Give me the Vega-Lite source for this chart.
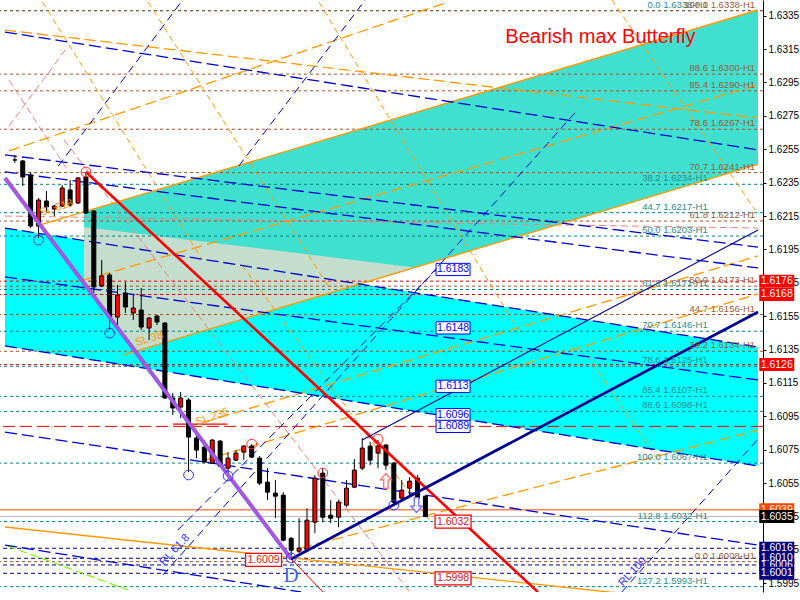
{
"$schema":"https://vega.github.io/schema/vega-lite/v6.json",
"width":763,"height":592,
"autosize":{"type":"none"},
"padding":{"left":0,"top":0,"right":37,"bottom":8},
"background":"#FFFFFF",
"config":{"view":{"stroke":null},
 "axisY":{"labelOverlap":false,"labelFlush":false,"grid":false,"title":null,"domainColor":"#000000","domainWidth":1,"tickColor":"#000000","tickSize":3,"labelColor":"#000000","labelFont":"Liberation Sans","labelFontSize":10,"labelPadding":2}},
"datasets":{
"candles":[
{"t":0,"o":1.62486,"h":1.62516,"l":1.62468,"c":1.62486},
{"t":1,"o":1.6248,"h":1.62486,"l":1.6233,"c":1.62384},
{"t":2,"o":1.62396,"h":1.62414,"l":1.62078,"c":1.6209},
{"t":3,"o":1.6209,"h":1.62258,"l":1.62018,"c":1.62246},
{"t":4,"o":1.6224,"h":1.623,"l":1.62174,"c":1.62204},
{"t":5,"o":1.62192,"h":1.62216,"l":1.6215,"c":1.6221},
{"t":6,"o":1.6221,"h":1.62336,"l":1.62204,"c":1.62318},
{"t":7,"o":1.62306,"h":1.62366,"l":1.62204,"c":1.62216},
{"t":8,"o":1.62228,"h":1.62384,"l":1.62222,"c":1.62378},
{"t":9,"o":1.62384,"h":1.62414,"l":1.62162,"c":1.62168},
{"t":10,"o":1.6218,"h":1.62186,"l":1.61689,"c":1.61725},
{"t":11,"o":1.61731,"h":1.61887,"l":1.61725,"c":1.61791},
{"t":12,"o":1.61797,"h":1.61809,"l":1.61467,"c":1.61545},
{"t":13,"o":1.61545,"h":1.61737,"l":1.61485,"c":1.61677},
{"t":14,"o":1.61689,"h":1.61755,"l":1.61569,"c":1.61605},
{"t":15,"o":1.61569,"h":1.61677,"l":1.61527,"c":1.61599},
{"t":16,"o":1.61587,"h":1.61719,"l":1.61467,"c":1.61485},
{"t":17,"o":1.61479,"h":1.61545,"l":1.61407,"c":1.61539},
{"t":18,"o":1.61551,"h":1.61557,"l":1.61497,"c":1.61515},
{"t":19,"o":1.61509,"h":1.61515,"l":1.61054,"c":1.6106},
{"t":20,"o":1.6106,"h":1.6109,"l":1.60958,"c":1.61},
{"t":21,"o":1.61006,"h":1.61096,"l":1.6094,"c":1.6106},
{"t":22,"o":1.61048,"h":1.6106,"l":1.60616,"c":1.60826},
{"t":23,"o":1.6082,"h":1.60868,"l":1.607,"c":1.60748},
{"t":24,"o":1.60766,"h":1.60808,"l":1.6067,"c":1.60676},
{"t":25,"o":1.6067,"h":1.60814,"l":1.60664,"c":1.60808},
{"t":26,"o":1.60802,"h":1.60808,"l":1.60646,"c":1.60652},
{"t":27,"o":1.6064,"h":1.60736,"l":1.60592,"c":1.607},
{"t":28,"o":1.60688,"h":1.60748,"l":1.60682,"c":1.6073},
{"t":29,"o":1.60736,"h":1.60778,"l":1.60688,"c":1.60772},
{"t":30,"o":1.60772,"h":1.60784,"l":1.607,"c":1.60706},
{"t":31,"o":1.607,"h":1.60712,"l":1.60538,"c":1.6055},
{"t":32,"o":1.60556,"h":1.6064,"l":1.60448,"c":1.60496},
{"t":33,"o":1.6049,"h":1.60568,"l":1.6034,"c":1.60472},
{"t":34,"o":1.60478,"h":1.60496,"l":1.60202,"c":1.60208},
{"t":35,"o":1.6022,"h":1.60226,"l":1.6009,"c":1.60148},
{"t":36,"o":1.60142,"h":1.6034,"l":1.6013,"c":1.6016},
{"t":37,"o":1.60148,"h":1.604,"l":1.60136,"c":1.60328},
{"t":38,"o":1.60316,"h":1.60598,"l":1.6025,"c":1.6058},
{"t":39,"o":1.6061,"h":1.6064,"l":1.60316,"c":1.60346},
{"t":40,"o":1.60358,"h":1.60448,"l":1.6031,"c":1.6034},
{"t":41,"o":1.60346,"h":1.60448,"l":1.60286,"c":1.60436},
{"t":42,"o":1.60418,"h":1.60568,"l":1.60406,"c":1.6052},
{"t":43,"o":1.60526,"h":1.60694,"l":1.6052,"c":1.60628},
{"t":44,"o":1.6064,"h":1.6082,"l":1.60628,"c":1.6076},
{"t":45,"o":1.60772,"h":1.60796,"l":1.60658,"c":1.60688},
{"t":46,"o":1.6073,"h":1.60808,"l":1.6064,"c":1.60772},
{"t":47,"o":1.60778,"h":1.60784,"l":1.60628,"c":1.60658},
{"t":48,"o":1.6067,"h":1.60676,"l":1.60418,"c":1.60436},
{"t":49,"o":1.6046,"h":1.60568,"l":1.60448,"c":1.60508},
{"t":50,"o":1.6052,"h":1.60586,"l":1.60478,"c":1.60562},
{"t":51,"o":1.6058,"h":1.60598,"l":1.6043,"c":1.6046},
{"t":52,"o":1.60472,"h":1.60472,"l":1.60346,"c":1.6035}
],
"zones":[
{"z":"cyan","t":-1.25,"top":1.62078,"bot":1.61372},
{"z":"cyan","t":94.125,"top":1.61366,"bot":1.60653},
{"z":"turq","t":8.75,"top":1.62174,"bot":1.61748},
{"z":"turq","t":15.225,"top":1.62266,"bot":1.6134},
{"z":"turq","t":94.125,"top":1.63384,"bot":1.62459},
{"z":"gray","t":8.75,"top":1.62084,"bot":1.61748},
{"z":"gray","t":15.225,"top":1.62047,"bot":1.6134},
{"z":"gray","t":50.625,"top":1.61842,"bot":1.61842}
],
"levels":[
{"p":1.6338,"k":"teal","txt":"0.0 1.6338-H1"},
{"p":1.6234,"k":"teal","txt":"38.2 1.6234-H1"},
{"p":1.6217,"k":"teal","txt":"44.7 1.6217-H1"},
{"p":1.6203,"k":"teal","txt":"50.0 1.6203-H1"},
{"p":1.6171,"k":"teal","txt":"61.8 1.6171-H1"},
{"p":1.6146,"k":"teal","txt":"70.7 1.6146-H1"},
{"p":1.6125,"k":"teal","txt":"78.6 1.6125-H1"},
{"p":1.6107,"k":"teal","txt":"85.4 1.6107-H1"},
{"p":1.6098,"k":"teal","txt":"88.6 1.6098-H1"},
{"p":1.6067,"k":"teal","txt":"100.0 1.6067-H1"},
{"p":1.6032,"k":"teal","txt":"112.8 1.6032-H1"},
{"p":1.5993,"k":"teal","txt":"127.2 1.5993-H1"},
{"p":1.6338,"k":"brown","txt":"100.0 1.6338-H1"},
{"p":1.63,"k":"brown","txt":"88.6 1.6300-H1"},
{"p":1.629,"k":"brown","txt":"85.4 1.6290-H1"},
{"p":1.6267,"k":"brown","txt":"78.6 1.6267-H1"},
{"p":1.6241,"k":"brown","txt":"70.7 1.6241-H1"},
{"p":1.6212,"k":"brown","txt":"61.8 1.6212-H1"},
{"p":1.6173,"k":"brown","txt":"50.0 1.6173-H1"},
{"p":1.6156,"k":"brown","txt":"44.7 1.6156-H1"},
{"p":1.6134,"k":"brown","txt":"38.2 1.6134-H1"},
{"p":1.6008,"k":"brown","txt":"0.0 1.6008-H1"},
{"p":1.6176,"k":"reddot"},{"p":1.6168,"k":"reddot"},{"p":1.6126,"k":"reddot"},
{"p":1.6089,"k":"redlong"},
{"p":1.6016,"k":"navy"},{"p":1.601,"k":"navy"},{"p":1.6006,"k":"navy"},{"p":1.6001,"k":"navy"},
{"p":1.6039,"k":"orline"},{"p":1.6035,"k":"bid"}
],
"segs":[
{"k":"orsolid","t1":3.125,"p1":1.62096,"t2":94.125,"p2":1.63384},
{"k":"orsolid","t1":13.75,"p1":1.61318,"t2":94.125,"p2":1.62459},
{"k":"orsolid","t1":-1.25,"p1":1.60287,"t2":94.125,"p2":1.59802},
{"k":"ordash","t1":21.875,"p1":1.60886,"t2":94.125,"p2":1.61911},
{"k":"ordash","t1":-0.75,"p1":1.6254,"t2":54.5,"p2":1.63426},
{"k":"ordash","t1":-1.25,"p1":1.63264,"t2":94.125,"p2":1.62737},
{"k":"ordash","t1":36.25,"p1":1.60162,"t2":94.125,"p2":1.60868},
{"k":"ordash","t1":8.75,"p1":1.61767,"t2":94.125,"p2":1.62935},
{"k":"ordash","t1":23.75,"p1":1.60683,"t2":94.125,"p2":1.61683},
{"k":"orsteep","t1":3.5,"p1":1.63432,"t2":23.75,"p2":1.61887},
{"k":"orsteep","t1":16.875,"p1":1.63432,"t2":40,"p2":1.61707},
{"k":"orsteep","t1":38.5,"p1":1.63432,"t2":63.75,"p2":1.61467},
{"k":"orsteep","t1":75.625,"p1":1.63444,"t2":93.75,"p2":1.62186},
{"k":"orsteep","t1":28.75,"p1":1.61857,"t2":52.5,"p2":1.60329},
{"k":"orsteep","t1":72.5,"p1":1.61318,"t2":81.875,"p2":1.60659},
{"k":"bldash","t1":-1.25,"p1":1.63252,"t2":94.125,"p2":1.62546},
{"k":"bldash","t1":-1.25,"p1":1.62516,"t2":94.125,"p2":1.61964},
{"k":"bldash","t1":-1.25,"p1":1.62414,"t2":94.125,"p2":1.61839},
{"k":"bldash","t1":-1.25,"p1":1.62078,"t2":94.125,"p2":1.61366},
{"k":"bldash","t1":-1.25,"p1":1.61372,"t2":94.125,"p2":1.60653},
{"k":"bldash","t1":-1.25,"p1":1.60856,"t2":94.125,"p2":1.60179},
{"k":"bldash","t1":-1.25,"p1":1.60179,"t2":36.25,"p2":1.59898},
{"k":"bldash","t1":-1.25,"p1":1.61785,"t2":94.125,"p2":1.61168},
{"k":"blsteep","t1":5.5,"p1":1.6245,"t2":21.25,"p2":1.63444},
{"k":"blsteep","t1":28.375,"p1":1.6245,"t2":44.375,"p2":1.63444},
{"k":"blsteep","t1":18.75,"p1":1.6,"t2":71.25,"p2":1.62785},
{"k":"blsteep","t1":76.875,"p1":1.59898,"t2":94.125,"p2":1.60814},
{"k":"blsteep","t1":20.625,"p1":1.60269,"t2":53.375,"p2":1.61827},
{"k":"salmon","t1":6.25,"p1":1.62605,"t2":50,"p2":1.59898},
{"k":"salmon","t1":-0.75,"p1":1.62689,"t2":6.375,"p2":1.63145},
{"k":"salmon","t1":-0.75,"p1":1.62965,"t2":6.5,"p2":1.62438},
{"k":"salmon","t1":-1.25,"p1":1.6215,"t2":94.125,"p2":1.62078},
{"k":"green","t1":-0.875,"p1":1.60173,"t2":14.375,"p2":1.5991},
{"k":"redseg","t1":20,"p1":1.60904,"t2":26.875,"p2":1.60904},
{"k":"xa","t1":-1.25,"p1":1.62378,"t2":35,"p2":1.60096},
{"k":"redthin","t1":35,"p1":1.60096,"t2":40,"p2":1.5985},
{"k":"redthick","t1":9,"p1":1.62414,"t2":66.25,"p2":1.59898},
{"k":"navythick","t1":35,"p1":1.60096,"t2":94.125,"p2":1.61575},
{"k":"navythin","t1":44,"p1":1.60808,"t2":94.125,"p2":1.62066}
],
"pts":[
{"k":"bc","t":3,"p":1.62006},{"k":"bc","t":12,"p":1.61449},{"k":"bc","t":22,"p":1.60599},
{"k":"bc","t":27,"p":1.60593},{"k":"bc","t":48,"p":1.60419},{"k":"bc","t":35,"p":1.60102},
{"k":"rc","t":9,"p":1.62414},{"k":"rc","t":30,"p":1.60784},{"k":"rc","t":39,"p":1.60611},{"k":"rc","t":46,"p":1.60814},
{"k":"up","t":47,"p":1.60563},{"k":"down","t":50.875,"p":1.60419}
],
"boxes":[
{"k":"b","t":55.5,"p":1.6183,"txt":"1.6183"},
{"k":"b","t":55.5,"p":1.6148,"txt":"1.6148"},
{"k":"b","t":55.5,"p":1.6113,"txt":"1.6113"},
{"k":"b","t":55.5,"p":1.6096,"txt":"1.6096"},
{"k":"b","t":55.5,"p":1.6089,"txt":"1.6089"},
{"k":"r","t":55.5,"p":1.6032,"txt":"1.6032"},
{"k":"r","t":55.5,"p":1.5998,"txt":"1.5998"},
{"k":"r","t":31.5,"p":1.6009,"txt":"1.6009"}
],
"notes":[
{"k":"title","t":62.125,"p":1.63222,"txt":"Bearish max Butterfly"},
{"k":"D","t":35,"p":1.59994,"txt":"D"},
{"k":"sl","t":5.25,"p":1.62198,"txt":"SL 618"},
{"k":"sl","t":17,"p":1.61413,"txt":"SL 38"},
{"k":"sl2","t":25,"p":1.60946,"txt":"SL 236"},
{"k":"rl","t":20.25,"p":1.6015,"txt":"RL 61.8"},
{"k":"rl","t":78.25,"p":1.60018,"txt":"RL 100"}
],
"tags":[
{"p":1.6176,"txt":"1.6176","k":"red","tier":1},
{"p":1.6168,"txt":"1.6168","k":"red","tier":1},
{"p":1.6126,"txt":"1.6126","k":"red","tier":1},
{"p":1.6039,"txt":"1.6039","k":"or","tier":1},
{"p":1.6016,"txt":"1.6016","k":"navy","tier":1},
{"p":1.601,"txt":"1.6010","k":"navy","tier":1},
{"p":1.6006,"txt":"1.6006","k":"navy","tier":1},
{"p":1.6035,"txt":"1.6035","k":"blk","tier":2},
{"p":1.6001,"txt":"1.6001","k":"navy","tier":2}
]
},
"layer":[
{"data":{"name":"zones"},"transform":[{"filter":"datum.z==='cyan'"}],
 "mark":{"type":"area","color":"#00FFFF","opacity":1},
 "encoding":{
  "x":{"field":"t","type":"quantitative","scale":{"domain":[-1.25,94.125],"nice":false,"zero":false},"axis":null},
  "y":{"field":"top","type":"quantitative","scale":{"domain":[1.59898,1.63444],"nice":false,"zero":false},
   "axis":{"orient":"right","values":[1.5995,1.6015,1.6035,1.6055,1.6075,1.6095,1.6115,1.6135,1.6155,1.6175,1.6195,1.6215,1.6235,1.6255,1.6275,1.6295,1.6315,1.6335],"tickCount":40,"format":".4f","labelOverlap":false}},
  "y2":{"field":"bot"}}},
{"data":{"name":"zones"},"transform":[{"filter":"datum.z==='turq'"}],
 "mark":{"type":"area","color":"#40E0D0","opacity":1},
 "encoding":{"x":{"field":"t","type":"quantitative","axis":null},"y":{"field":"top","type":"quantitative","title":null},"y2":{"field":"bot"}}},
{"data":{"name":"zones"},"transform":[{"filter":"datum.z==='gray'"}],
 "mark":{"type":"area","color":"#C4DDCD","opacity":1},
 "encoding":{"x":{"field":"t","type":"quantitative","axis":null},"y":{"field":"top","type":"quantitative","title":null},"y2":{"field":"bot"}}},
{"data":{"name":"levels"},
 "mark":{"type":"rule","strokeWidth":1},
 "encoding":{"y":{"field":"p","type":"quantitative","title":null},
  "color":{"field":"k","type":"nominal","legend":null,"scale":{"domain":["teal","brown","reddot","redlong","navy","orline","bid"],"range":["#008080","#A0522D","#E00000","#FF0000","#000080","#FF4500","#BBBBBB"]}},
  "strokeDash":{"field":"k","type":"nominal","legend":null,"scale":{"domain":["teal","brown","reddot","redlong","navy","orline","bid"],"range":[[3,3],[3,3],[3,3],[12,5],[4,3],[1,0],[1,0]]}}}},
{"data":{"name":"segs"},"transform":[{"filter":"datum.k==='salmon'"}],
 "mark":{"type":"rule","color":"#F08080","strokeWidth":1,"strokeDash":[7,4],"clip":true},
 "encoding":{"x":{"field":"t1","type":"quantitative","axis":null},"x2":{"field":"t2"},"y":{"field":"p1","type":"quantitative","title":null},"y2":{"field":"p2"}}},
{"data":{"name":"segs"},"transform":[{"filter":"datum.k==='green'"}],
 "mark":{"type":"rule","color":"#7CFC00","strokeWidth":1.2,"strokeDash":[8,4],"clip":true},
 "encoding":{"x":{"field":"t1","type":"quantitative","axis":null},"x2":{"field":"t2"},"y":{"field":"p1","type":"quantitative","title":null},"y2":{"field":"p2"}}},
{"data":{"name":"segs"},"transform":[{"filter":"datum.k==='orsteep'"}],
 "mark":{"type":"rule","color":"#FF9900","strokeWidth":1,"strokeDash":[6,4],"clip":true},
 "encoding":{"x":{"field":"t1","type":"quantitative","axis":null},"x2":{"field":"t2"},"y":{"field":"p1","type":"quantitative","title":null},"y2":{"field":"p2"}}},
{"data":{"name":"segs"},"transform":[{"filter":"datum.k==='ordash'"}],
 "mark":{"type":"rule","color":"#FF9900","strokeWidth":1.3,"strokeDash":[11,5],"clip":true},
 "encoding":{"x":{"field":"t1","type":"quantitative","axis":null},"x2":{"field":"t2"},"y":{"field":"p1","type":"quantitative","title":null},"y2":{"field":"p2"}}},
{"data":{"name":"segs"},"transform":[{"filter":"datum.k==='orsolid'"}],
 "mark":{"type":"rule","color":"#FF9900","strokeWidth":1.4,"clip":true},
 "encoding":{"x":{"field":"t1","type":"quantitative","axis":null},"x2":{"field":"t2"},"y":{"field":"p1","type":"quantitative","title":null},"y2":{"field":"p2"}}},
{"data":{"name":"segs"},"transform":[{"filter":"datum.k==='blsteep'"}],
 "mark":{"type":"rule","color":"#0000CD","strokeWidth":1,"strokeDash":[8,5],"clip":true},
 "encoding":{"x":{"field":"t1","type":"quantitative","axis":null},"x2":{"field":"t2"},"y":{"field":"p1","type":"quantitative","title":null},"y2":{"field":"p2"}}},
{"data":{"name":"segs"},"transform":[{"filter":"datum.k==='bldash'"}],
 "mark":{"type":"rule","color":"#0000CD","strokeWidth":1.3,"strokeDash":[12,5],"clip":true},
 "encoding":{"x":{"field":"t1","type":"quantitative","axis":null},"x2":{"field":"t2"},"y":{"field":"p1","type":"quantitative","title":null},"y2":{"field":"p2"}}},
{"data":{"name":"segs"},"transform":[{"filter":"datum.k==='redseg'"}],
 "mark":{"type":"rule","color":"#FF0000","strokeWidth":1.2,"clip":true},
 "encoding":{"x":{"field":"t1","type":"quantitative","axis":null},"x2":{"field":"t2"},"y":{"field":"p1","type":"quantitative","title":null},"y2":{"field":"p2"}}},
{"data":{"name":"candles"},
 "mark":{"type":"rule","color":"#000000","strokeWidth":1},
 "encoding":{"x":{"field":"t","type":"quantitative","axis":null},"y":{"field":"l","type":"quantitative","title":null},"y2":{"field":"h"}}},
{"data":{"name":"candles"},
 "mark":{"type":"bar","size":4,"stroke":"#000000","strokeWidth":1},
 "encoding":{"x":{"field":"t","type":"quantitative","axis":null},"y":{"field":"o","type":"quantitative","title":null},"y2":{"field":"c"},
  "fill":{"condition":{"test":"datum.c > datum.o","value":"#FF0000"},"value":"#000000"}}},
{"data":{"name":"segs"},"transform":[{"filter":"datum.k==='xa'"}],
 "mark":{"type":"rule","color":"#6A6AE0","strokeWidth":4,"clip":true},
 "encoding":{"x":{"field":"t1","type":"quantitative","axis":null},"x2":{"field":"t2"},"y":{"field":"p1","type":"quantitative","title":null},"y2":{"field":"p2"}}},
{"data":{"name":"segs"},"transform":[{"filter":"datum.k==='xa'"}],
 "mark":{"type":"rule","color":"#E040E0","strokeWidth":1.6,"clip":true},
 "encoding":{"x":{"field":"t1","type":"quantitative","axis":null},"x2":{"field":"t2"},"y":{"field":"p1","type":"quantitative","title":null},"y2":{"field":"p2"}}},
{"data":{"name":"segs"},"transform":[{"filter":"datum.k==='redthin'"}],
 "mark":{"type":"rule","color":"#FF0000","strokeWidth":1,"clip":true},
 "encoding":{"x":{"field":"t1","type":"quantitative","axis":null},"x2":{"field":"t2"},"y":{"field":"p1","type":"quantitative","title":null},"y2":{"field":"p2"}}},
{"data":{"name":"segs"},"transform":[{"filter":"datum.k==='redthick'"}],
 "mark":{"type":"rule","color":"#FF0000","strokeWidth":2.6,"clip":true},
 "encoding":{"x":{"field":"t1","type":"quantitative","axis":null},"x2":{"field":"t2"},"y":{"field":"p1","type":"quantitative","title":null},"y2":{"field":"p2"}}},
{"data":{"name":"segs"},"transform":[{"filter":"datum.k==='navythin'"}],
 "mark":{"type":"rule","color":"#000090","strokeWidth":1.1,"clip":true},
 "encoding":{"x":{"field":"t1","type":"quantitative","axis":null},"x2":{"field":"t2"},"y":{"field":"p1","type":"quantitative","title":null},"y2":{"field":"p2"}}},
{"data":{"name":"segs"},"transform":[{"filter":"datum.k==='navythick'"}],
 "mark":{"type":"rule","color":"#000090","strokeWidth":2.8,"clip":true},
 "encoding":{"x":{"field":"t1","type":"quantitative","axis":null},"x2":{"field":"t2"},"y":{"field":"p1","type":"quantitative","title":null},"y2":{"field":"p2"}}},
{"data":{"name":"pts"},"transform":[{"filter":"datum.k==='bc'"}],
 "mark":{"type":"point","shape":"circle","filled":false,"color":"#3333FF","size":95,"strokeWidth":1,"opacity":1},
 "encoding":{"x":{"field":"t","type":"quantitative","axis":null},"y":{"field":"p","type":"quantitative","title":null}}},
{"data":{"name":"pts"},"transform":[{"filter":"datum.k==='rc'"}],
 "mark":{"type":"point","shape":"circle","filled":false,"color":"#FF3333","size":95,"strokeWidth":1,"opacity":1},
 "encoding":{"x":{"field":"t","type":"quantitative","axis":null},"y":{"field":"p","type":"quantitative","title":null}}},
{"data":{"name":"pts"},"transform":[{"filter":"datum.k==='up'"}],
 "mark":{"type":"point","shape":"M0,-1L0.75,-0.15L0.3,-0.15L0.3,1L-0.3,1L-0.3,-0.15L-0.75,-0.15Z","filled":true,"fill":"#FFFFFF","stroke":"#FF6F6F","strokeWidth":1.3,"size":220,"opacity":1},
 "encoding":{"x":{"field":"t","type":"quantitative","axis":null},"y":{"field":"p","type":"quantitative","title":null}}},
{"data":{"name":"pts"},"transform":[{"filter":"datum.k==='down'"}],
 "mark":{"type":"point","shape":"M0,1L0.75,0.15L0.3,0.15L0.3,-1L-0.3,-1L-0.3,0.15L-0.75,0.15Z","filled":true,"fill":"#FFFFFF","stroke":"#7070FF","strokeWidth":1.3,"size":220,"opacity":1},
 "encoding":{"x":{"field":"t","type":"quantitative","axis":null},"y":{"field":"p","type":"quantitative","title":null}}},
{"data":{"name":"boxes"},"transform":[{"filter":"datum.k==='b'"}],
 "mark":{"type":"point","shape":"M-1,-0.36L1,-0.36L1,0.36L-1,0.36Z","filled":true,"fill":"#FFFFFF","stroke":"#0000FF","strokeWidth":1,"size":1156,"opacity":1},
 "encoding":{"x":{"field":"t","type":"quantitative","axis":null},"y":{"field":"p","type":"quantitative","title":null}}},
{"data":{"name":"boxes"},"transform":[{"filter":"datum.k==='r'"}],
 "mark":{"type":"point","shape":"M-1,-0.36L1,-0.36L1,0.36L-1,0.36Z","filled":true,"fill":"#FFFFFF","stroke":"#FF0000","strokeWidth":1.3,"size":1296,"opacity":1},
 "encoding":{"x":{"field":"t","type":"quantitative","axis":null},"y":{"field":"p","type":"quantitative","title":null}}},
{"data":{"name":"boxes"},
 "mark":{"type":"text","font":"Liberation Sans","fontSize":10.5,"align":"center","baseline":"middle"},
 "encoding":{"x":{"field":"t","type":"quantitative","axis":null},"y":{"field":"p","type":"quantitative","title":null},"text":{"field":"txt"},
  "color":{"condition":{"test":"datum.k==='b'","value":"#0000FF"},"value":"#D02020"}}},
{"data":{"name":"levels"},"transform":[{"filter":"datum.k==='teal'"}],
 "mark":{"type":"text","align":"right","baseline":"bottom","dy":-1,"font":"Liberation Sans","fontSize":9.5,"color":"#2E8B8B"},
 "encoding":{"x":{"datum":87.75,"type":"quantitative","axis":null},"y":{"field":"p","type":"quantitative","title":null},"text":{"field":"txt"}}},
{"data":{"name":"levels"},"transform":[{"filter":"datum.k==='brown'"}],
 "mark":{"type":"text","align":"right","baseline":"bottom","dy":-1,"font":"Liberation Sans","fontSize":9.5,"color":"#9A5A3A"},
 "encoding":{"x":{"datum":93.75,"type":"quantitative","axis":null},"y":{"field":"p","type":"quantitative","title":null},"text":{"field":"txt"}}},
{"data":{"name":"notes"},"transform":[{"filter":"datum.k==='title'"}],
 "mark":{"type":"text","align":"left","baseline":"middle","font":"Liberation Sans","fontSize":20,"color":"#FF0000"},
 "encoding":{"x":{"field":"t","type":"quantitative","axis":null},"y":{"field":"p","type":"quantitative","title":null},"text":{"field":"txt"}}},
{"data":{"name":"notes"},"transform":[{"filter":"datum.k==='D'"}],
 "mark":{"type":"text","align":"center","baseline":"middle","font":"Liberation Serif","fontSize":21,"color":"#4169E1"},
 "encoding":{"x":{"field":"t","type":"quantitative","axis":null},"y":{"field":"p","type":"quantitative","title":null},"text":{"field":"txt"}}},
{"data":{"name":"notes"},"transform":[{"filter":"datum.k==='sl'"}],
 "mark":{"type":"text","align":"center","baseline":"middle","font":"Liberation Sans","fontSize":11,"color":"#FF9900","angle":343},
 "encoding":{"x":{"field":"t","type":"quantitative","axis":null},"y":{"field":"p","type":"quantitative","title":null},"text":{"field":"txt"}}},
{"data":{"name":"notes"},"transform":[{"filter":"datum.k==='sl2'"}],
 "mark":{"type":"text","align":"center","baseline":"middle","font":"Liberation Sans","fontSize":11,"color":"#FF9900","angle":340},
 "encoding":{"x":{"field":"t","type":"quantitative","axis":null},"y":{"field":"p","type":"quantitative","title":null},"text":{"field":"txt"}}},
{"data":{"name":"notes"},"transform":[{"filter":"datum.k==='rl'"}],
 "mark":{"type":"text","align":"center","baseline":"middle","font":"Liberation Sans","fontSize":11,"color":"#3333FF","angle":313},
 "encoding":{"x":{"field":"t","type":"quantitative","axis":null},"y":{"field":"p","type":"quantitative","title":null},"text":{"field":"txt"}}},
{"data":{"name":"tags"},"transform":[{"filter":"datum.tier===1"}],
 "mark":{"type":"point","shape":"M-1,-0.371L1,-0.371L1,0.371L-1,0.371Z","filled":true,"size":1225,"opacity":1,"strokeWidth":0,"clip":false},
 "encoding":{"x":{"datum":96.5,"type":"quantitative","axis":null},"y":{"field":"p","type":"quantitative","title":null},
  "fill":{"field":"k","type":"nominal","legend":null,"scale":{"domain":["red","or","blk","navy"],"range":["#FF0000","#FF4500","#000000","#000080"]}}}},
{"data":{"name":"tags"},"transform":[{"filter":"datum.tier===1"}],
 "mark":{"type":"text","align":"center","baseline":"middle","font":"Liberation Sans","fontSize":10.5,"color":"#FFFFFF","clip":false},
 "encoding":{"x":{"datum":96.5,"type":"quantitative","axis":null},"y":{"field":"p","type":"quantitative","title":null},"text":{"field":"txt"}}},
{"data":{"name":"tags"},"transform":[{"filter":"datum.tier===2"}],
 "mark":{"type":"point","shape":"M-1,-0.371L1,-0.371L1,0.371L-1,0.371Z","filled":true,"size":1225,"opacity":1,"strokeWidth":0,"clip":false},
 "encoding":{"x":{"datum":96.5,"type":"quantitative","axis":null},"y":{"field":"p","type":"quantitative","title":null},
  "fill":{"field":"k","type":"nominal","legend":null,"scale":{"domain":["red","or","blk","navy"],"range":["#FF0000","#FF4500","#000000","#000080"]}}}},
{"data":{"name":"tags"},"transform":[{"filter":"datum.tier===2"}],
 "mark":{"type":"text","align":"center","baseline":"middle","font":"Liberation Sans","fontSize":10.5,"color":"#FFFFFF","clip":false},
 "encoding":{"x":{"datum":96.5,"type":"quantitative","axis":null},"y":{"field":"p","type":"quantitative","title":null},"text":{"field":"txt"}}}
]
}
